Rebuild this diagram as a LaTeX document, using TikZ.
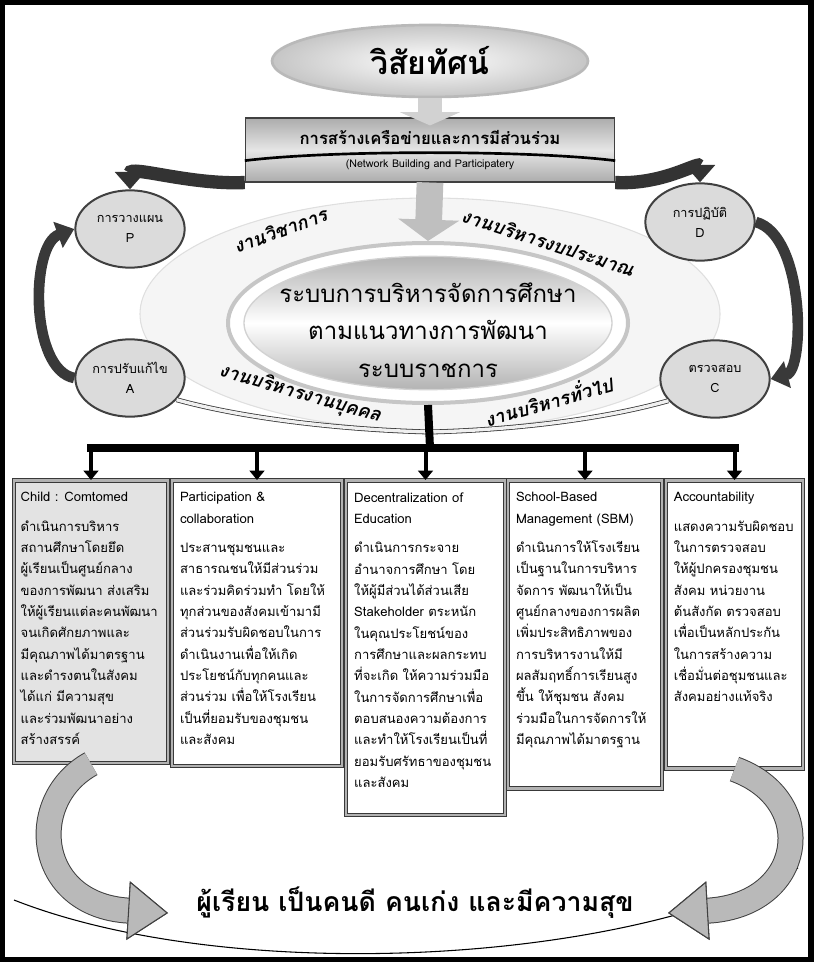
\documentclass[tikz,border=0pt]{standalone}
\usepackage{fontspec}
\setmainfont{Loma}[Script=Thai]
\usetikzlibrary{arrows.meta,shapes.geometric,positioning}

\tikzset{
  pdca/.style={ellipse, draw=gray!50!black, line width=1.5pt, fill=gray!28,
    minimum width=82pt, minimum height=58pt, inner sep=0pt, align=center,
    font=\fontsize{9.5}{15}\selectfont},
  panel/.style={rectangle, draw=gray!45!black, line width=0.8pt, double=gray!60,
    double distance=1.6pt, fill=white, anchor=north, inner sep=0pt},
  paneltext/.style={align=left, inner sep=0pt, font=\fontsize{9.8}{16}\selectfont},
  worklabel/.style={font=\fontsize{14}{16}\selectfont\bfseries\itshape},
  drop/.style={line width=3pt, -{Triangle[width=11pt,length=7pt]}},
  pdcaloop/.style={line width=8pt, draw=gray!45!black, -{Triangle[width=20pt,length=13pt]}},
  fanout/.style={line width=10pt, draw=gray!40!black, -{Triangle[width=22pt,length=13pt]}},
  bigcurve/.style={line width=18pt, draw=gray!55, preaction={draw=black!75, line width=19.5pt},
    -{Triangle[width=44pt,length=30pt,fill=gray!55,color=black!75,line width=0.8pt]}},
  twin/.style={draw=gray!45!black, line width=0.6pt, double=gray!12, double distance=2.5pt},
}

\begin{document}
\begin{tikzpicture}[x=0.75pt, y=-0.75pt, thick]
\useasboundingbox (0,0) rectangle (813,962);

% light ring round the centre
\node[ellipse, draw=gray!25, fill=gray!8, minimum width=435pt, minimum height=174pt] (ring) at (430,314) {};

% PDCA
\node[pdca] (plan) at (130,229) {การวางแผน\\P};
\node[pdca] (perform) at (700,222) {การปฏิบัติ\\D};
\node[pdca] (check) at (715,379) {ตรวจสอบ\\C};
\node[pdca] (improve) at (130,378) {การปรับแก้ไข\\A};

\draw[pdcaloop] (improve.west) .. controls (30,370) and (30,245) .. (plan.west);
\draw[pdcaloop] (perform.east) .. controls (805,235) and (805,370) .. (check.east);

% centre
\node[ellipse, draw=gray!45, line width=3pt, fill=white, minimum width=300pt, minimum height=120pt] (systemrim) at (428,323) {};
\node[ellipse, draw=gray!35, line width=1pt, top color=gray!60, bottom color=gray!60, middle color=white,
      minimum width=276pt, minimum height=100pt] (system) at (428,323) {};
\node[align=center, font=\fontsize{18}{28}\selectfont] (systemtext) at (428,330)
  {ระบบการบริหารจัดการศึกษา\\ตามแนวทางการพัฒนา\\ระบบราชการ};

\node[worklabel, rotate=20] (acad) at (280,230) {งานวิชาการ};
\node[worklabel, rotate=-18] (budget) at (548,242) {งานบริหารงบประมาณ};
\node[worklabel, rotate=-16] (staff) at (300,394) {งานบริหารงานบุคคล};
\node[worklabel, rotate=16] (general) at (548,400) {งานบริหารทั่วไป};

% vision and network
\node[ellipse, draw=gray!55, line width=2pt, inner color=white, outer color=gray!45,
      minimum width=237pt, minimum height=54pt, font=\fontsize{24}{28}\selectfont\bfseries] (vision) at (430,61) {วิสัยทัศน์};
\node[rectangle, draw=gray!50!black, top color=gray!65, bottom color=gray!65, middle color=gray!20,
      minimum width=277pt, minimum height=48pt, align=center] (net) at (430,150)
  {{\fontsize{12.5}{15}\selectfont\bfseries การสร้างเครือข่ายและการมีส่วนร่วม}\\[5pt]
   {\fontsize{8}{10}\selectfont (Network Building and Participatery}};

\draw[fanout] (net.south west) .. controls (190,185) and (130,165) .. (plan.north);
\draw[fanout] (net.south east) .. controls (665,185) and (700,160) .. (perform.north);
\draw[line width=2pt] ([yshift=-8pt]net.west) .. controls (330,150) and (530,150) .. ([yshift=-8pt]net.east);

\draw[line width=18pt, gray!35, -{Triangle[width=45pt,length=10pt]}] (vision.south) -- ([yshift=-6pt]net.north);
\draw[line width=20pt, gray!50, -{Triangle[width=45pt,length=16pt]}] (net.south) -- (systemrim.north);

% down to the five panels
\coordinate (knot) at (430,432);
\coordinate (hub) at (430,448);
\draw[twin] (improve.-25) .. controls (250,420) and (350,430) .. (knot);
\draw[twin] (check.-155) .. controls (600,420) and (510,430) .. (knot);
\draw[line width=6pt] (systemrim.south) -- (hub);

\node[panel, fill=gray!22, minimum width=115.5pt, minimum height=212pt] (child) at (91,480) {};
\node[panel, minimum width=127.5pt, minimum height=214pt] (partic) at (257,480) {};
\node[panel, minimum width=119pt, minimum height=251pt] (decent) at (425.5,480) {};
\node[panel, minimum width=115.5pt, minimum height=231pt] (sbm) at (585,480) {};
\node[panel, minimum width=103pt, minimum height=216pt] (account) at (734.5,480) {};

\draw[line width=6pt, line cap=rect] (child.north |- hub) -- (account.north |- hub);
\foreach \b in {child,partic,decent,sbm,account}
  \draw[drop] (\b.north |- hub) -- (\b.north);

\node[paneltext, below right=9pt and 5pt of child.north west] (childtext)
  {Child : Comtomed\\[6pt]
   ดำเนินการบริหาร\\สถานศึกษาโดยยึด\\ผู้เรียนเป็นศูนย์กลาง\\ของการพัฒนา ส่งเสริม\\
   ให้ผู้เรียนแต่ละคนพัฒนา\\จนเกิดศักยภาพและ\\มีคุณภาพได้มาตรฐาน\\และดำรงตนในสังคม\\
   ได้แก่ มีความสุข\\และร่วมพัฒนาอย่าง\\สร้างสรรค์};
\node[paneltext, below right=9pt and 6pt of partic.north west] (partictext)
  {Participation \&\\collaboration\\[6pt]
   ประสานชุมชนและ\\สาธารณชนให้มีส่วนร่วม\\และร่วมคิดร่วมทำ โดยให้\\ทุกส่วนของสังคมเข้ามามี\\
   ส่วนร่วมรับผิดชอบในการ\\ดำเนินงานเพื่อให้เกิด\\ประโยชน์กับทุกคนและ\\ส่วนร่วม เพื่อให้โรงเรียน\\
   เป็นที่ยอมรับของชุมชน\\และสังคม};
\node[paneltext, below right=9pt and 6pt of decent.north west] (decenttext)
  {Decentralization of\\Education\\[6pt]
   ดำเนินการกระจาย\\อำนาจการศึกษา โดย\\ให้ผู้มีส่วนได้ส่วนเสีย\\Stakeholder ตระหนัก\\
   ในคุณประโยชน์ของ\\การศึกษาและผลกระทบ\\ที่จะเกิด ให้ความร่วมมือ\\ในการจัดการศึกษาเพื่อ\\
   ตอบสนองความต้องการ\\และทำให้โรงเรียนเป็นที่\\ยอมรับศรัทธาของชุมชน\\และสังคม};
\node[paneltext, below right=9pt and 6pt of sbm.north west] (sbmtext)
  {School-Based\\Management (SBM)\\[6pt]
   ดำเนินการให้โรงเรียน\\เป็นฐานในการบริหาร\\จัดการ พัฒนาให้เป็น\\ศูนย์กลางของการผลิต\\
   เพิ่มประสิทธิภาพของ\\การบริหารงานให้มี\\ผลสัมฤทธิ์การเรียนสูง\\ขึ้น ให้ชุมชน สังคม\\
   ร่วมมือในการจัดการให้\\มีคุณภาพได้มาตรฐาน};
\node[paneltext, below right=9pt and 6pt of account.north west] (accounttext)
  {Accountability\\[6pt]
   แสดงความรับผิดชอบ\\ในการตรวจสอบ\\ให้ผู้ปกครองชุมชน\\สังคม หน่วยงาน\\
   ต้นสังกัด ตรวจสอบ\\เพื่อเป็นหลักประกัน\\ในการสร้างความ\\เชื่อมั่นต่อชุมชนและ\\
   สังคมอย่างแท้จริง};

% goal at the bottom
\draw[line width=0.8pt] (14,900) .. controls (230,985) and (620,965) .. (798,868);
\node[font=\fontsize{20}{24}\selectfont\bfseries] (goal) at (415,903) {ผู้เรียน เป็นคนดี คนเก่ง และมีความสุข};
\coordinate (lefttip) at (168,913);
\coordinate (righttip) at (668,913);
\draw[bigcurve] (child.south) .. controls (25,800) and (35,905) .. (lefttip);
\draw[bigcurve] (account.south) .. controls (820,800) and (805,905) .. (righttip);

% frame
\draw[line width=7.5pt] (0,0) rectangle (813,962);
\end{tikzpicture}
\end{document}
